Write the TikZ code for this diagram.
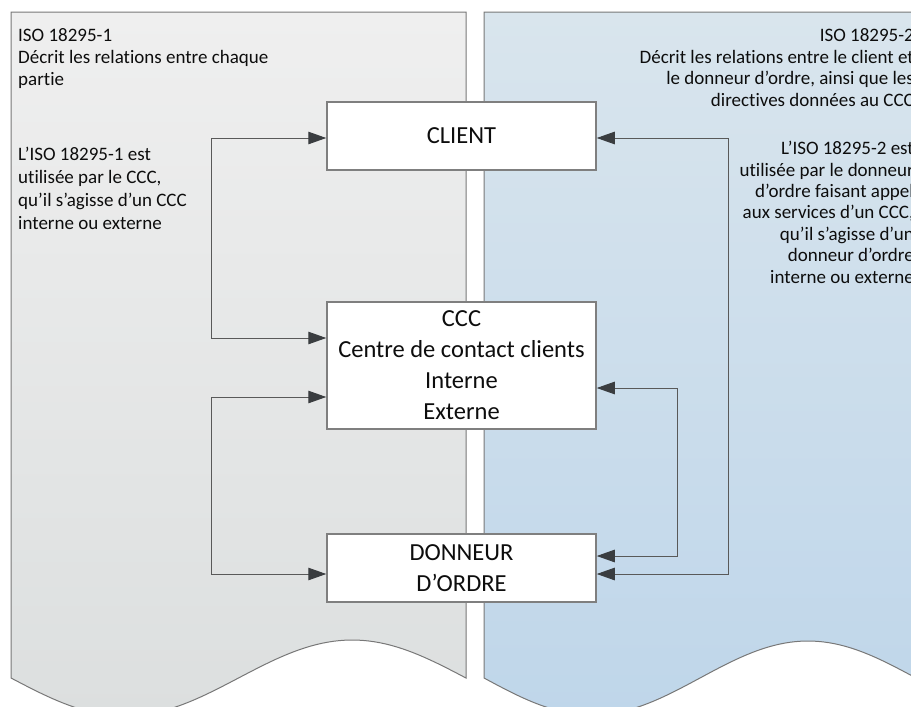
\documentclass[tikz,border=0pt]{standalone}
\usepackage{fontspec}
\setmainfont{Carlito}[Ligatures=NoCommon]
\usetikzlibrary{arrows.meta}
\definecolor{lgtop}{HTML}{EFEFEF}
\definecolor{lgbot}{HTML}{DCDFDF}
\definecolor{bltop}{HTML}{D9E5ED}
\definecolor{blbot}{HTML}{BFD6EA}
\definecolor{edgec}{HTML}{787878}
\definecolor{boxedge}{HTML}{7F7F7F}
\definecolor{lnc}{HTML}{595959}
\definecolor{tipc}{HTML}{3A3D40}
\definecolor{txt}{HTML}{0D0D0D}
\begin{document}
\begin{tikzpicture}[x=1pt,y=-1pt,
  panel/.style={draw=edgec, line width=1pt},
  box/.style={draw=boxedge, line width=1.5pt, fill=white, minimum width=269pt, inner sep=0pt, align=center, text=txt, font=\fontsize{24.5}{31}\selectfont},
  conn/.style={draw=lnc, line width=1pt, {Triangle[length=18pt,width=12.5pt,color=tipc]}-{Triangle[length=18pt,width=12.5pt,color=tipc]}},
  side/.style={inner sep=0pt, text=txt, font=\fontsize{19}{22}\selectfont}]
\useasboundingbox (0,0) rectangle (911,707);
\clip (0,0) rectangle (911,707);
\fill[white] (0,0) rectangle (911,707);
% panels
\path[panel, top color=lgtop, bottom color=lgbot] (11,12) -- (466,12) -- (466,678) -- plot[domain=466:11, samples=80] (\x,{678+38*sin(0.791209*(\x-11))}) -- cycle;
\path[panel, top color=bltop, bottom color=blbot] (484,12) -- (916,12) -- (916,678) -- plot[domain=916:484, samples=80] (\x,{678+37*sin(0.833333*(\x-484))}) -- cycle;
% texts
\node[side, anchor=north west, align=left] (t1) at (18,28) {ISO 18295-1\\Décrit les relations entre chaque\\partie};
\node[side, anchor=north west, align=left, font=\fontsize{19}{23}\selectfont] (t2) at (18,147) {L’ISO 18295-1 est\\utilisée par le CCC,\\qu’il s’agisse d’un CCC\\interne ou externe};
\node[side, anchor=north east, align=right, font=\fontsize{19}{21.9}\selectfont] (t3) at (914,28) {ISO 18295-2\\Décrit les relations entre le client et\\le donneur d’ordre, ainsi que les\\directives données au CCC};
\node[side, anchor=north east, align=right, font=\fontsize{19}{21.4}\selectfont] (t4) at (914,141) {L’ISO 18295-2 est\\utilisée par le donneur\\d’ordre faisant appel\\aux services d’un CCC,\\qu’il s’agisse d’un\\donneur d’ordre\\interne ou externe};
% boxes
\node[box, minimum height=68pt] (client) at (461.5,136) {CLIENT};
\node[box, minimum height=127pt] (ccc) at (461.5,365.5) {CCC\\Centre de contact clients\\Interne\\Externe};
\node[box, minimum height=68pt] (donneur) at (461.5,568) {DONNEUR\\D’ORDRE};
% bends
\coordinate (lA) at (211,138);
\coordinate (lB) at (211,338);
\coordinate (lC) at (211,397);
\coordinate (lD) at (211,574);
\coordinate (rA) at (728,138);
\coordinate (rB) at (728,574);
\coordinate (rC) at (677,388);
\coordinate (rD) at (677,556);
% connectors
\draw[conn] (client.west |- lA) -- (lA) -- (lB) -- (ccc.west |- lB);
\draw[conn] (ccc.west |- lC) -- (lC) -- (lD) -- (donneur.west |- lD);
\draw[conn] (client.east |- rA) -- (rA) -- (rB) -- (donneur.east |- rB);
\draw[conn] (ccc.east |- rC) -- (rC) -- (rD) -- (donneur.east |- rD);
\end{tikzpicture}
\end{document}
